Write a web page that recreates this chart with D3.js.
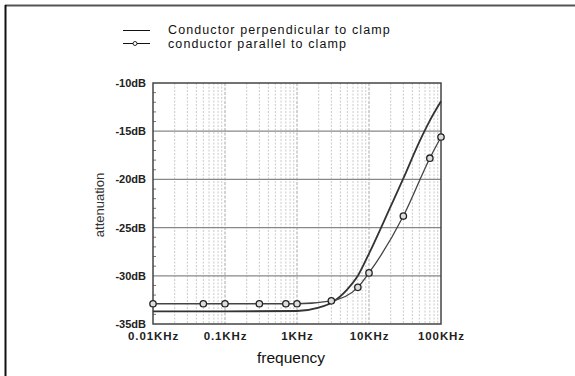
<!DOCTYPE html>
<html><head><meta charset="utf-8">
<script src="https://cdn.jsdelivr.net/npm/d3@7"></script>
<style>
html,body{margin:0;padding:0;background:#fff;}
svg{display:block;font-family:"Liberation Sans",Arial,sans-serif;}
</style></head>
<body>
<svg id="chart" width="575" height="376"></svg>
<script>
// ---- data ----
const seriesNames = ["Conductor perpendicular to clamp", "conductor parallel to clamp"];
const freqPerp = [10, 100, 1000, 2000, 3000, 5000, 7000, 10000, 20000, 30000, 50000, 70000, 100000];
const dbPerp   = [-33.7, -33.7, -33.65, -33.3, -32.8, -31.4, -30.0, -27.7, -22.8, -19.9, -16.1, -13.9, -11.9];
const freqPar  = [10, 50, 100, 300, 700, 1000, 3000, 7000, 10000, 30000, 70000, 100000];
const dbPar    = [-32.9, -32.9, -32.9, -32.9, -32.9, -32.9, -32.6, -31.2, -29.7, -23.8, -17.8, -15.6];
const xTickValues = [10, 100, 1000, 10000, 100000];
const xTickLabels = ["0.01KHz", "0.1KHz", "1KHz", "10KHz", "100KHz"];
const yTickValues = [-10, -15, -20, -25, -30, -35];
const yTickLabels = ["-10dB", "-15dB", "-20dB", "-25dB", "-30dB", "-35dB"];
const xTitle = "frequency";
const yTitle = "attenuation";

// ---- layout ----
const svg = d3.select("#chart");
const L = 153, R = 441, T = 83, B = 324;
const x = d3.scaleLog().domain([10, 100000]).range([L, R]);
const y = d3.scaleLinear().domain([-35, -10]).range([B, T]);

// outer frame (left & top edges)
svg.append("line").attr("x1", 5).attr("x2", 575).attr("y1", 5.5).attr("y2", 5.5).attr("stroke", "#555").attr("stroke-width", 2);
svg.append("line").attr("x1", 5.5).attr("x2", 5.5).attr("y1", 5).attr("y2", 376).attr("stroke", "#111").attr("stroke-width", 2);

// vertical log grid
const minor = [];
for (let d = 10; d < 100000; d *= 10) for (let k = 2; k <= 9; k++) minor.push(d * k);
const majorInner = [100, 1000, 10000];
svg.append("g").selectAll("line").data(minor).join("line")
  .attr("x1", d => x(d)).attr("x2", d => x(d)).attr("y1", T).attr("y2", B)
  .attr("stroke", "#c4c4c4").attr("stroke-width", 0.9).attr("stroke-dasharray", "2,1.5");
svg.append("g").selectAll("line").data(majorInner).join("line")
  .attr("x1", d => x(d)).attr("x2", d => x(d)).attr("y1", T).attr("y2", B)
  .attr("stroke", "#a8a8a8").attr("stroke-width", 1).attr("stroke-dasharray", "3,1.5");

// horizontal grid
svg.append("g").selectAll("line").data([-15, -20, -25, -30]).join("line")
  .attr("x1", L).attr("x2", R).attr("y1", d => y(d)).attr("y2", d => y(d))
  .attr("stroke", "#888").attr("stroke-width", 1.2);

// minor y ticks inside left border
svg.append("g").selectAll("line").data(d3.range(-34, -10, 1).filter(v => v % 5 !== 0)).join("line")
  .attr("x1", L).attr("x2", L + 3).attr("y1", d => y(d)).attr("y2", d => y(d))
  .attr("stroke", "#777").attr("stroke-width", 1);

// plot border
svg.append("rect").attr("x", L).attr("y", T).attr("width", R - L).attr("height", B - T)
  .attr("fill", "none").attr("stroke", "#444").attr("stroke-width", 1.5);

// axes labels via d3 axes
const yAxis = d3.axisLeft(y).tickValues(yTickValues).tickSize(0).tickPadding(7)
  .tickFormat((d, i) => yTickLabels[i]);
const gy = svg.append("g").attr("transform", `translate(${L},0)`).call(yAxis);
gy.select(".domain").remove();
gy.selectAll("text").attr("font-size", 11).attr("font-weight", "bold").attr("fill", "#222")
  .attr("font-family", "Liberation Sans, Arial, sans-serif");

const xAxis = d3.axisBottom(x).tickValues(xTickValues).tickSize(0).tickPadding(8)
  .tickFormat((d, i) => xTickLabels[i]);
const gx = svg.append("g").attr("transform", `translate(0,${B})`).call(xAxis);
gx.select(".domain").remove();
gx.selectAll("text").attr("font-size", 11.5).attr("font-weight", "bold").attr("fill", "#222")
  .attr("letter-spacing", "0.9px").attr("font-family", "Liberation Sans, Arial, sans-serif");

// titles
svg.append("text").attr("x", 291).attr("y", 363).attr("text-anchor", "middle")
  .attr("font-size", 15.5).attr("fill", "#111").text(xTitle);
svg.append("text").attr("transform", "translate(104,205) rotate(-90)").attr("text-anchor", "middle")
  .attr("font-size", 13).attr("fill", "#333").text(yTitle);

// lines
const line = d3.line().x(d => x(d[0])).y(d => y(d[1])).curve(d3.curveMonotoneX);
const perp = freqPerp.map((f, i) => [f, dbPerp[i]]);
const par = freqPar.map((f, i) => [f, dbPar[i]]);
svg.append("path").datum(perp).attr("d", line).attr("fill", "none").attr("stroke", "#333").attr("stroke-width", 1.8);
svg.append("path").datum(par).attr("d", line).attr("fill", "none").attr("stroke", "#444").attr("stroke-width", 1.3);
svg.append("g").selectAll("circle").data(par).join("circle")
  .attr("cx", d => x(d[0])).attr("cy", d => y(d[1])).attr("r", 3.2)
  .attr("fill", "#ddd").attr("stroke", "#222").attr("stroke-width", 1.3);

// legend
const lg = svg.append("g");
lg.append("line").attr("x1", 123).attr("x2", 150).attr("y1", 30.5).attr("y2", 30.5).attr("stroke", "#111").attr("stroke-width", 1);
lg.append("line").attr("x1", 123).attr("x2", 150).attr("y1", 43.5).attr("y2", 43.5).attr("stroke", "#111").attr("stroke-width", 1);
lg.append("circle").attr("cx", 135).attr("cy", 43.5).attr("r", 2).attr("fill", "#fff").attr("stroke", "#111").attr("stroke-width", 0.9);
lg.append("text").attr("x", 168).attr("y", 34).attr("font-size", 12.5).attr("letter-spacing", "1.1px").attr("fill", "#111").text(seriesNames[0]);
lg.append("text").attr("x", 168).attr("y", 47.5).attr("font-size", 12.5).attr("letter-spacing", "1.1px").attr("fill", "#111").text(seriesNames[1]);
</script>
</body></html>
